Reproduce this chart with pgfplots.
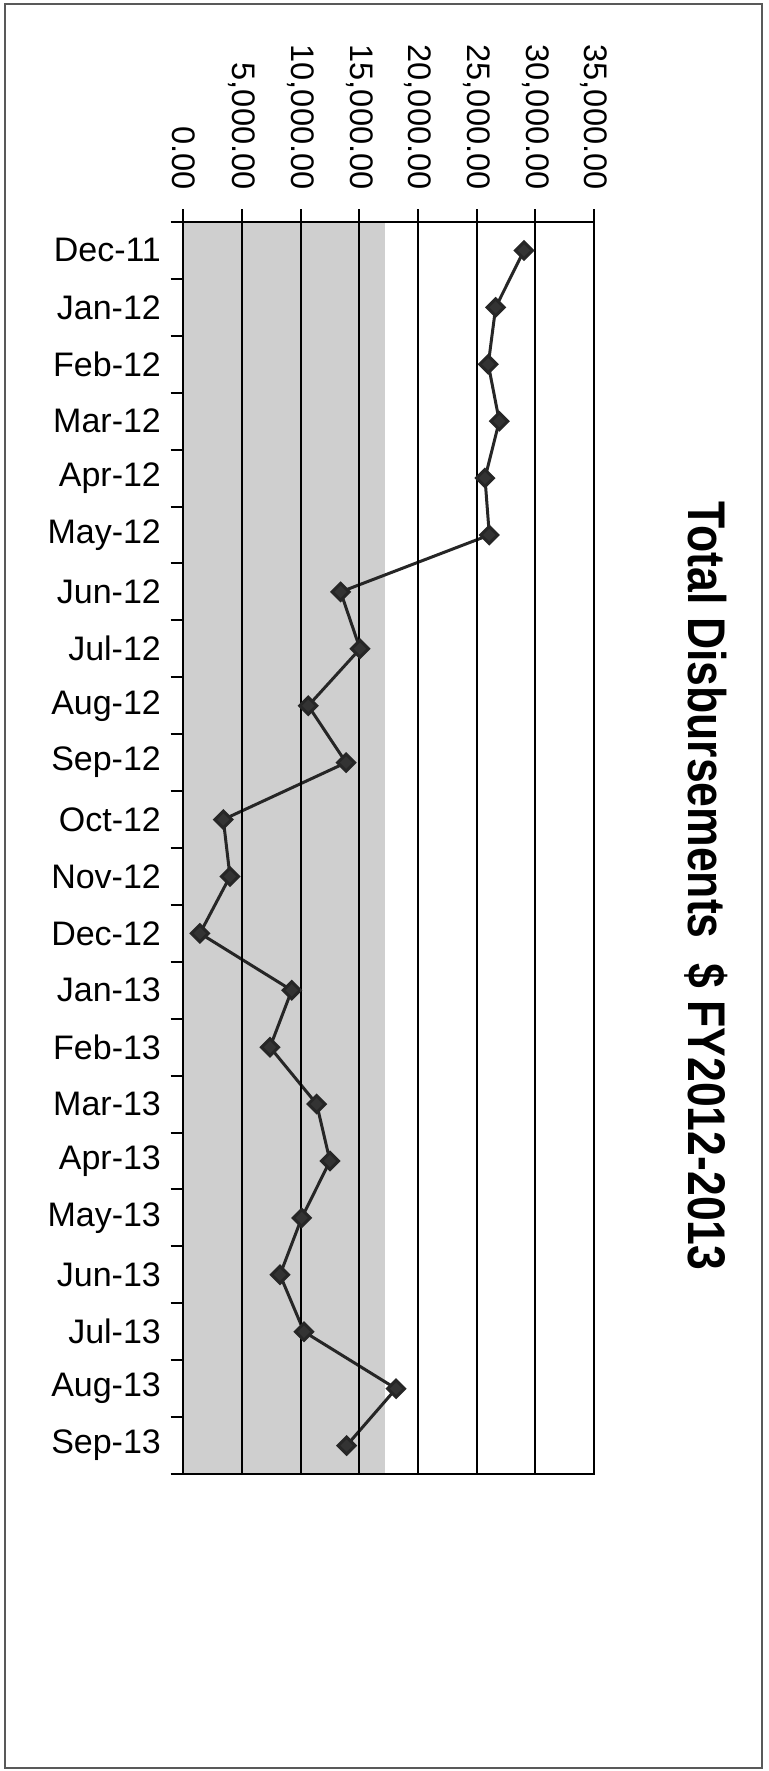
\documentclass[border=0pt]{standalone}
\usepackage{fontspec}
\setmainfont{Liberation Sans}
\usepackage{pgfplots}
\pgfplotsset{compat=1.18}
\begin{document}
\begin{tikzpicture}
\useasboundingbox (0,0) rectangle (384.5pt,-885.5pt);
\draw[black!65, line width=1pt] (2.5pt,-2pt) rectangle (381pt,-884pt);
\begin{axis}[
  at={(91.65pt,-111pt)}, anchor=north west,
  scale only axis, width=205.35pt, height=626pt,
  xmin=0, xmax=35000, ymin=-0.5, ymax=21.5,
  axis on top,
  xtick={0,5000,...,35000},
  minor xtick={0,5000,...,35000},
  xtick pos=right, xticklabel pos=right,
  ytick={0,...,21},
  minor ytick={-0.5,0.5,...,21.5},
  ytick pos=left,
  yticklabels={Sep-13,Aug-13,Jul-13,Jun-13,May-13,Apr-13,Mar-13,Feb-13,Jan-13,Dec-12,Nov-12,Oct-12,Sep-12,Aug-12,Jul-12,Jun-12,May-12,Apr-12,Mar-12,Feb-12,Jan-12,Dec-11},
  tick align=outside,
  major tick length=0pt, minor tick length=6.3pt,
  xmajorgrids,
  major grid style={black, line width=0.9pt},
  axis line style={black, line width=1pt},
  minor tick style={black, line width=1pt},
  scaled x ticks=false,
  xticklabel={\pgfmathprintnumber[assume math mode=true,fixed,fixed zerofill,precision=2,1000 sep={,}]{\tick}},
  xticklabel style={rotate=-90, anchor=east, inner sep=0pt, font=\fontsize{16.3}{19}\selectfont},
  xticklabel shift=16pt,
  yticklabel style={anchor=east, inner sep=0pt, font=\fontsize{17}{20}\selectfont},
  yticklabel shift=11pt,
]
\fill[black!19] (axis cs:0,-0.5) rectangle (axis cs:17200,21.5);
\addplot[color=black!85, line width=1.5pt, mark=square*, mark size=3pt,
  mark options={rotate=45, fill=black!80, solid}] table[x=v, y=i] {
v i
29035 21
26620 20
25990 19
26930 18
25710 17
26080 16
13410 15
15060 14
10650 13
13870 12
3410 11
3980 10
1420 9
9240 8
7390 7
11370 6
12500 5
10090 4
8240 3
10290 2
18130 1
13920 0
};
\end{axis}
\node[rotate=-90, xscale=0.84, font=\bfseries\fontsize{26.5}{30}\selectfont, inner sep=0pt]
  at (353pt,-443pt) {Total Disbursements\ \ \$ FY2012-2013};
\end{tikzpicture}
\end{document}
